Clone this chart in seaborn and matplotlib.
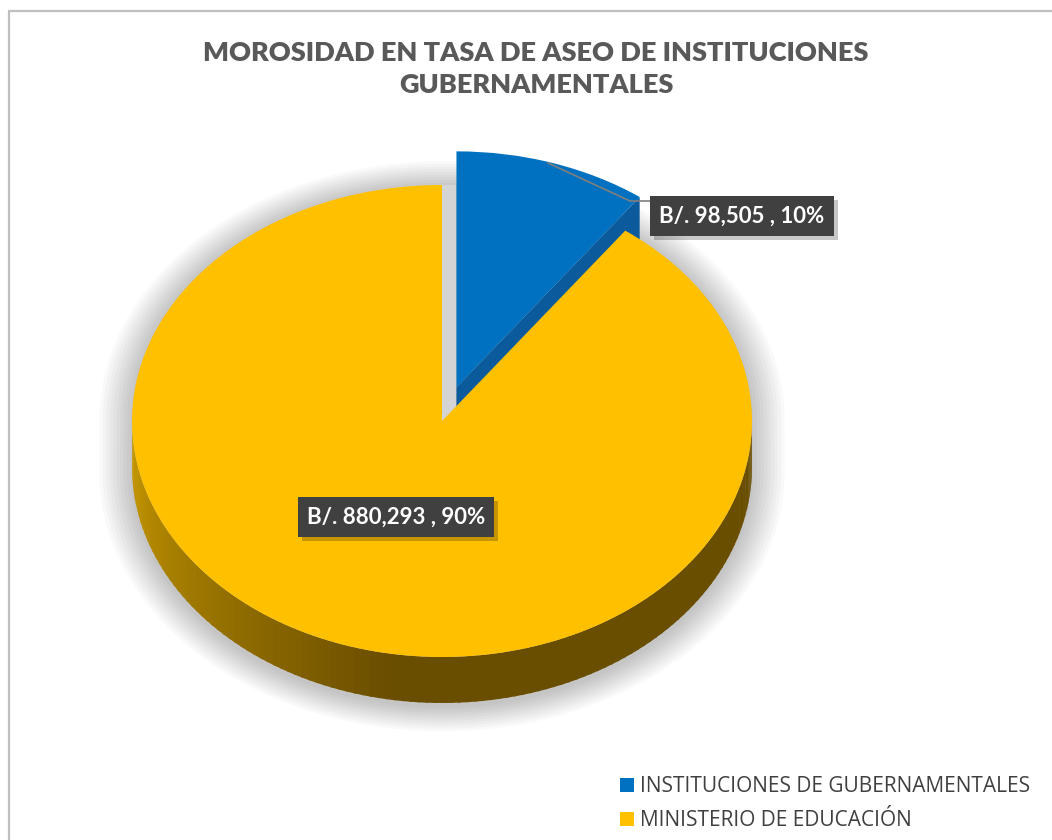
import numpy as np
import matplotlib
matplotlib.use("Agg")
import matplotlib.pyplot as plt
import seaborn as sns
from matplotlib.patches import Polygon, Patch, Rectangle
from matplotlib.lines import Line2D
from matplotlib.transforms import IdentityTransform

# ---------------- data ----------------
categories = ["INSTITUCIONES DE GUBERNAMENTALES", "MINISTERIO DE EDUCACIÓN"]
values = [98505, 880293]
colors = ["#0070C0", "#FFC000"]
title = "MOROSIDAD EN TASA DE ASEO DE INSTITUCIONES\nGUBERNAMENTALES"

sns.set_theme(style="white")
plt.rcParams["font.family"] = ["Lato", "DejaVu Sans"]

W, H = 1052, 840
fig = plt.figure(figsize=(W / 100, H / 100), dpi=100)
fig.patch.set_facecolor("white")

# ellipse geometry in pixels (layout only)
cx, cy, rx, ry = 442.0, 421.0, 310.0, 236.0
depth = 46.0 / ry

ax = fig.add_axes([0, 0, 1, 1])

def px(x, y):
    return ((x - cx) / rx, (cy - y) / ry)

fracs = np.array(values, dtype=float) / sum(values)
explode_amt = 0.15
blue_span = fracs[0] * 360.0
blue_end = 90.0 - blue_span
mid = np.deg2rad(90.0 - blue_span / 2)
off = np.array([np.cos(mid), np.sin(mid)]) * explode_amt

# soft shadow under the pie
theta = np.linspace(0, 2 * np.pi, 200)
for s in np.linspace(1.10, 1.0, 10):
    sx = np.cos(theta) * s * 1.005
    sy = np.sin(theta) * s - depth - 0.02
    sy = np.where(sy > -depth, np.sin(theta) * s, sy)
    ax.add_patch(Polygon(np.column_stack([sx, sy]), closed=True,
                         facecolor="#000000", alpha=0.022, edgecolor="none", zorder=1))

# yellow front side (visible from 180 to 360 deg) with gradient
n = 120
angs = np.linspace(180, 360, n + 1)
c_light = np.array(matplotlib.colors.to_rgb("#C99A00"))
c_dark = np.array(matplotlib.colors.to_rgb("#6A4E00"))
for a0, a1 in zip(angs[:-1], angs[1:]):
    t = np.clip((a0 - 180) / 80.0, 0, 1)
    col = c_light * (1 - t) + c_dark * t
    r0, r1 = np.deg2rad(a0), np.deg2rad(a1 + 0.4)
    pts = [(np.cos(r0), np.sin(r0)), (np.cos(r1), np.sin(r1)),
           (np.cos(r1), np.sin(r1) - depth), (np.cos(r0), np.sin(r0) - depth)]
    ax.add_patch(Polygon(pts, closed=True, facecolor=col, edgecolor="none", zorder=2))

# blue radial cut face
rb = np.deg2rad(blue_end)
v = off
p = off + np.array([np.cos(rb), np.sin(rb)])
ax.add_patch(Polygon([v, p, p - [0, depth], v - [0, depth]], closed=True,
                     facecolor="#0A5A9C", edgecolor="none", zorder=2))

# gray shadow in the gap left of the blue wedge
gap = [(0, 0), (0, 1.0), (off[0], 1.0), (off[0], -0.05)]
ax.add_patch(Polygon(gap, closed=True, facecolor="#D4D4D4", edgecolor="none", zorder=1.5))

# top faces via pie
wedges, _ = ax.pie(values, colors=colors, startangle=90, counterclock=False,
                   explode=[explode_amt, 0], radius=1.0, center=(0, 0),
                   wedgeprops=dict(linewidth=0), frame=True)
wedges[0].set_zorder(3)
wedges[1].set_zorder(4)
ax.set_aspect("auto")
ax.set_xlim((0 - cx) / rx, (W - cx) / rx)
ax.set_ylim((cy - H) / ry, cy / ry)
ax.axis("off")

# data labels
total = sum(values)
labels = [f"B/. {v_:,} , {v_ / total * 100:.0f}%" for v_ in values]
label_pos = [px(742, 216), px(396, 517)]
label_texts = []
for lab, pos in zip(labels, label_pos):
    t = ax.text(pos[0], pos[1], lab, ha="center", va="center", fontsize=16,
                fontweight="bold", color="white", zorder=7,
                bbox=dict(boxstyle="square,pad=0.42", facecolor="#404040",
                          edgecolor="none"))
    label_texts.append(t)

# leader line for blue label
lx = [px(548, 163)[0], px(630, 201)[0], px(652, 201)[0]]
ly = [px(548, 163)[1], px(630, 201)[1], px(652, 201)[1]]
ax.plot(lx, ly, color="#7F7F7F", lw=1.2, zorder=5)

# title
fig.text(536 / W, 1 - 69 / H, title, ha="center", va="center", fontsize=19.5,
         fontweight="heavy", color="#595959", linespacing=1.4)

# legend
handles = [Patch(facecolor=c, edgecolor="none") for c in colors]
leg = fig.legend(handles, categories, loc="upper left",
                 bbox_to_anchor=(610 / W, 1 - 766 / H), frameon=False,
                 fontsize=15, handlelength=0.65, handleheight=0.65,
                 handletextpad=0.3, labelspacing=0.62, borderpad=0)
for t in leg.get_texts():
    t.set_color("#404040")
    t.set_family(["Open Sans", "DejaVu Sans"])

# chart border (top & left visible)
fig.add_artist(Line2D([9.5 / W, 1.0], [1 - 10.5 / H] * 2, color="#BFBFBF", lw=1.6))
fig.add_artist(Line2D([9.5 / W] * 2, [0.0, 1 - 10.5 / H], color="#BFBFBF", lw=1.6))

# drop shadows behind label boxes (inside the axes, below the labels)
fig.canvas.draw()
renderer = fig.canvas.get_renderer()
for t in label_texts:
    bb = t.get_bbox_patch().get_window_extent(renderer)
    shadow = Rectangle((bb.x0 + 4, bb.y0 - 4), bb.width, bb.height,
                       transform=IdentityTransform(), facecolor="#000000",
                       alpha=0.22, edgecolor="none", zorder=6)
    ax.add_artist(shadow)

fig.savefig("out.png", dpi=100, facecolor="white")
